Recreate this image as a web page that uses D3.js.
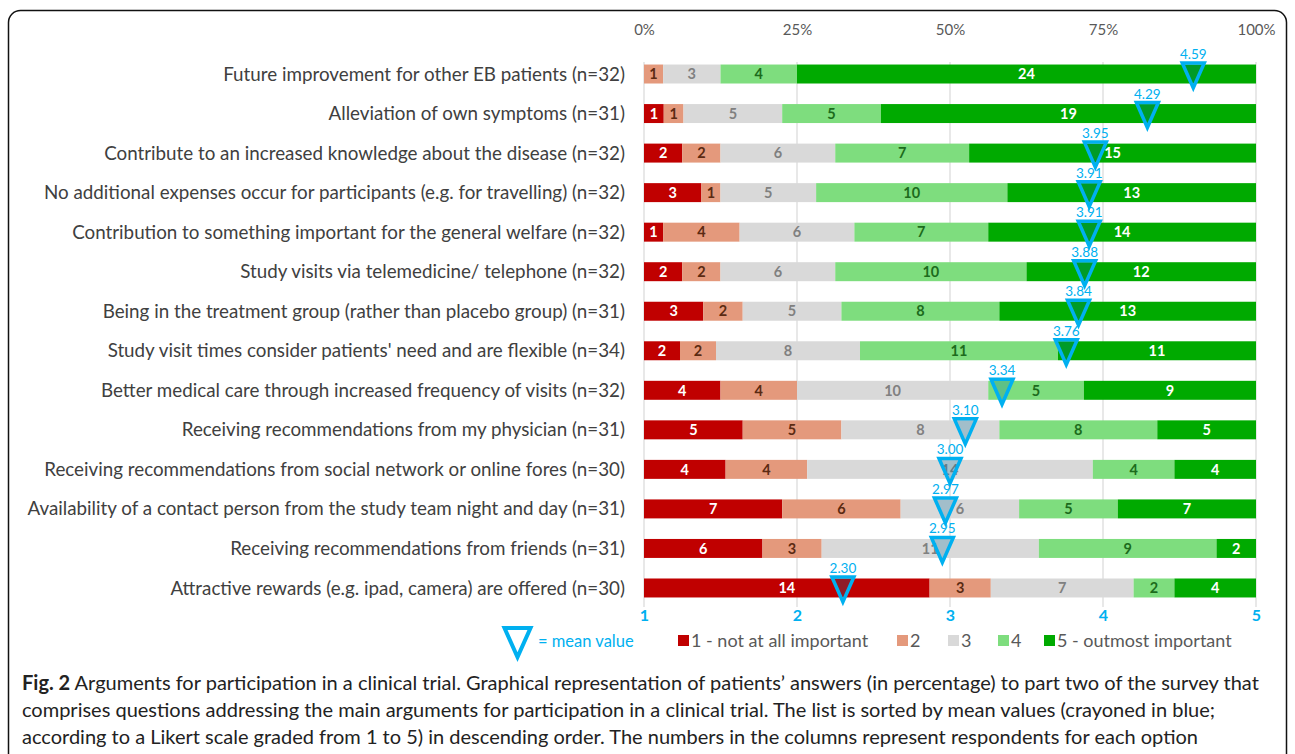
<!DOCTYPE html>
<html>
<head>
	<meta charset="utf-8">
	<title>Arguments for participation in a clinical trial</title>
	<style type="text/css">
		body { margin: 0; background: #fff; }
		svg { display: block; }
	</style>
	<script src="https://d3js.org/d3.v7.min.js"></script>
</head>
<body>
	<svg width="1295" height="754"></svg>
	<script type="text/javascript">
		// survey answers (respondents per option 1..5) and mean values
		var questions = [
			'Future improvement for other EB patients (n=32)',
			'Alleviation of own symptoms (n=31)',
			'Contribute to an increased knowledge about the disease (n=32)',
			'No additional expenses occur for participants  (e.g. for travelling) (n=32)',
			'Contribution to something important for the general welfare (n=32)',
			'Study visits via telemedicine/ telephone (n=32)',
			'Being in the treatment group (rather than placebo group) (n=31)',
			"Study visit times consider patients' need and are flexible (n=34)",
			'Better medical care through increased frequency of visits (n=32)',
			'Receiving recommendations from my physician (n=31)',
			'Receiving recommendations from social network or online fores (n=30)',
			'Availability of a contact person from the study team night and day (n=31)',
			'Receiving recommendations from friends (n=31)',
			'Attractive rewards (e.g. ipad, camera) are offered (n=30)'
		];
		var answers1 = [0, 1, 2, 3, 1, 2, 3, 2, 4, 5, 4, 7, 6, 14];
		var answers2 = [1, 1, 2, 1, 4, 2, 2, 2, 4, 5, 4, 6, 3, 3];
		var answers3 = [3, 5, 6, 5, 6, 6, 5, 8, 10, 8, 14, 6, 11, 7];
		var answers4 = [4, 5, 7, 10, 7, 10, 8, 11, 5, 8, 4, 5, 9, 2];
		var answers5 = [24, 19, 15, 13, 14, 12, 13, 11, 9, 5, 4, 7, 2, 4];
		var means = [4.59, 4.29, 3.95, 3.91, 3.91, 3.88, 3.84, 3.76, 3.34, 3.10, 3.00, 2.97, 2.95, 2.30];
		var optionNames = ['1 - not at all important', '2', '3', '4', '5 - outmost important'];
		var percentTicks = [0, 0.25, 0.5, 0.75, 1];
		var likertTicks = [1, 2, 3, 4, 5];

		var fills = ['#c00000', '#e4997c', '#d9d9d9', '#7edd7e', '#00aa00'];
		var labelCols = ['#ffffff', '#5b2a12', '#808080', '#1c6b1c', '#ffffff'];
		const blue = '#00b0f0';
		const font = "Lato, 'Open Sans', sans-serif";

		var svg = d3.select('svg');

		// rounded frame
		svg.append('rect')
			.attr('x', 8.5).attr('y', 10.5)
			.attr('width', 1278).attr('height', 760)
			.attr('rx', 12)
			.attr('fill', 'none').attr('stroke', '#111').attr('stroke-width', 1.5);

		var x = d3.scaleLinear().domain([0, 1]).range([644, 1256]);
		var xMean = d3.scaleLinear().domain([1, 5]).range([644, 1256]);
		var y = d3.scaleBand().domain(questions).range([54.25, 607.75])
			.paddingInner(0.52).paddingOuter(0.26);

		// gridlines
		svg.append('g').selectAll('line')
			.data(percentTicks).enter().append('line')
			.attr('x1', d => x(d)).attr('x2', d => x(d))
			.attr('y1', 62).attr('y2', 607)
			.attr('stroke', '#d9d9d9').attr('stroke-width', 1.2);

		// top percent axis
		var topAxis = svg.append('g').attr('transform', 'translate(0,38)')
			.call(d3.axisTop(x).tickValues(percentTicks).tickFormat(d3.format('.0%')).tickSize(0));
		topAxis.select('.domain').remove();
		topAxis.selectAll('text').attr('fill', '#595959').attr('font-size', 15).attr('font-family', font);

		// bottom likert axis
		var bottomAxis = svg.append('g').attr('transform', 'translate(0,606)')
			.call(d3.axisBottom(xMean).tickValues(likertTicks).tickFormat(d3.format('d')).tickSize(0).tickPadding(4));
		bottomAxis.select('.domain').remove();
		bottomAxis.selectAll('text').attr('fill', blue).attr('font-size', 16).attr('font-weight', 'bold').attr('font-family', font);

		// category labels
		svg.append('g').selectAll('text')
			.data(questions).enter().append('text')
			.attr('x', 625)
			.attr('y', d => y(d) + y.bandwidth() / 2)
			.attr('dy', '0.35em')
			.attr('text-anchor', 'end')
			.attr('font-family', font).attr('font-size', 18.8)
			.attr('fill', '#404040')
			.text(d => d);

		// stacked segments
		var series = [answers1, answers2, answers3, answers4, answers5];
		var rows = questions.map((q, i) => {
			var total = d3.sum(series, s => s[i]);
			var acc = 0;
			return series.map((s, k) => {
				var seg = {q: q, k: k, v: s[i], x0: acc / total};
				acc += s[i];
				seg.x1 = acc / total;
				return seg;
			});
		});
		var segs = rows.flat().filter(d => d.v > 0);

		svg.append('g').selectAll('rect')
			.data(segs).enter().append('rect')
			.attr('x', d => x(d.x0))
			.attr('y', d => y(d.q))
			.attr('width', d => x(d.x1) - x(d.x0))
			.attr('height', y.bandwidth())
			.attr('fill', d => fills[d.k]);

		svg.append('g').selectAll('text')
			.data(segs).enter().append('text')
			.attr('x', d => (x(d.x0) + x(d.x1)) / 2)
			.attr('y', d => y(d.q) + y.bandwidth() / 2)
			.attr('dy', '0.36em')
			.attr('text-anchor', 'middle')
			.attr('font-family', font).attr('font-size', 14.5).attr('font-weight', 'bold')
			.attr('fill', d => labelCols[d.k])
			.text(d => d.v);

		// mean markers
		function tri(cx, ty, w, h) {
			return 'M' + (cx - w / 2) + ',' + ty + 'L' + (cx + w / 2) + ',' + ty + 'L' + cx + ',' + (ty + h) + 'Z';
		}
		var mk = svg.append('g').selectAll('g')
			.data(questions).enter().append('g');
		mk.append('path')
			.attr('d', (d, i) => tri(xMean(means[i]), y(d) - 1.5, 22, 25))
			.attr('fill', 'rgba(0,112,160,0.25)')
			.attr('stroke', blue).attr('stroke-width', 3.5).attr('stroke-linejoin', 'miter');
		mk.append('text')
			.attr('x', (d, i) => xMean(means[i]))
			.attr('y', d => y(d) - 5.5)
			.attr('text-anchor', 'middle')
			.attr('font-family', font).attr('font-size', 13.5)
			.attr('fill', blue)
			.text((d, i) => d3.format('.2f')(means[i]));

		// legend
		var leg = svg.append('g').attr('transform', 'translate(0,641)');
		leg.append('path').attr('d', tri(517.5, -13, 26, 29))
			.attr('fill', 'none').attr('stroke', blue).attr('stroke-width', 4);
		leg.append('text').attr('x', 538).attr('y', 0).attr('dy', '0.35em')
			.attr('font-family', font).attr('font-size', 16.5).attr('fill', blue)
			.text('= mean value');
		var legX = [678, 897, 948, 998, 1044];
		optionNames.forEach((n, k) => {
			leg.append('rect').attr('x', legX[k]).attr('y', -6).attr('width', 11).attr('height', 11)
				.attr('fill', fills[k]);
			leg.append('text').attr('x', legX[k] + 13).attr('y', 0).attr('dy', '0.35em')
				.attr('font-family', font).attr('font-size', 18).attr('fill', '#595959')
				.text(n);
		});

		// caption
		var cap = svg.append('g').attr('font-family', font).attr('font-size', 20).attr('fill', '#222');
		var capLines = [
			'Arguments for participation in a clinical trial. Graphical representation of patients\u2019 answers (in percentage) to part two of the survey that',
			'comprises questions addressing the main arguments for participation in a clinical trial. The list is sorted by mean values (crayoned in blue;',
			'according to a Likert scale graded from 1 to 5) in descending order. The numbers in the columns represent respondents for each option'
		];
		var t0 = cap.append('text').attr('x', 22).attr('y', 690);
		t0.append('tspan').attr('font-weight', 'bold').text('Fig. 2');
		t0.append('tspan').text(' ' + capLines[0]);
		cap.append('text').attr('x', 22).attr('y', 717).text(capLines[1]);
		cap.append('text').attr('x', 22).attr('y', 744).text(capLines[2]);
	</script>
</body>
</html>
